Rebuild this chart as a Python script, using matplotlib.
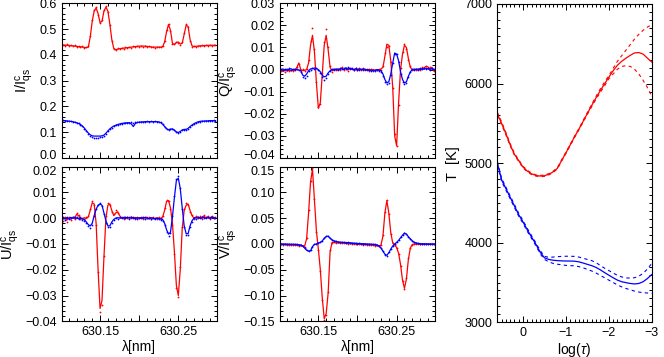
import numpy as np
import matplotlib
matplotlib.use("Agg")
import matplotlib.pyplot as plt
import matplotlib.transforms as mtrans
from matplotlib.ticker import MultipleLocator, FixedLocator, FixedFormatter, FuncFormatter

plt.rcParams["font.family"] = ["Liberation Sans", "DejaVu Sans"]
plt.rcParams["mathtext.fontset"] = "custom"
plt.rcParams["mathtext.rm"] = "Liberation Sans"
plt.rcParams["mathtext.it"] = "Liberation Sans:italic"
plt.rcParams["font.size"] = 9

# wavelength sampling (nm), 2.5 pm steps
lam = 630.1025 + 0.0025 * np.arange(79)

# Stokes I / Icqs
i_red_fit = [0.438, 0.438, 0.437, 0.437, 0.436, 0.435, 0.434, 0.433, 0.432, 0.431,
             0.430, 0.429, 0.428, 0.430, 0.470, 0.530, 0.570, 0.582, 0.560, 0.525,
             0.530, 0.570, 0.585, 0.570, 0.520, 0.460, 0.425, 0.420, 0.422, 0.424,
             0.425, 0.426, 0.427, 0.428, 0.429, 0.430, 0.431, 0.432, 0.433, 0.434,
             0.434, 0.434, 0.434, 0.433, 0.432, 0.431, 0.430, 0.430, 0.430, 0.430,
             0.430, 0.432, 0.450, 0.490, 0.518, 0.495, 0.445, 0.440, 0.448, 0.450,
             0.442, 0.445, 0.480, 0.515, 0.510, 0.460, 0.435, 0.432, 0.433, 0.434,
             0.435, 0.435, 0.436, 0.436, 0.437, 0.437, 0.437, 0.437, 0.437]
i_red_obs = [0.440, 0.436, 0.441, 0.435, 0.438, 0.434, 0.437, 0.431, 0.434, 0.430,
             0.433, 0.427, 0.429, 0.433, 0.475, 0.535, 0.575, 0.585, 0.555, 0.522,
             0.535, 0.574, 0.588, 0.566, 0.515, 0.455, 0.423, 0.418, 0.425, 0.422,
             0.427, 0.424, 0.429, 0.426, 0.431, 0.428, 0.433, 0.430, 0.435, 0.432,
             0.436, 0.432, 0.435, 0.431, 0.434, 0.429, 0.432, 0.428, 0.431, 0.429,
             0.431, 0.434, 0.454, 0.495, 0.520, 0.492, 0.442, 0.443, 0.450, 0.447,
             0.440, 0.448, 0.485, 0.518, 0.507, 0.455, 0.430, 0.435, 0.429, 0.436,
             0.433, 0.438, 0.434, 0.438, 0.435, 0.439, 0.436, 0.438, 0.437]
i_blue_fit = [0.145, 0.145, 0.144, 0.143, 0.142, 0.141, 0.139, 0.137, 0.134, 0.130,
              0.124, 0.116, 0.106, 0.097, 0.090, 0.086, 0.085, 0.085, 0.085, 0.085,
              0.086, 0.089, 0.096, 0.105, 0.113, 0.119, 0.124, 0.127, 0.130, 0.132,
              0.134, 0.135, 0.136, 0.137, 0.137, 0.132, 0.122, 0.133, 0.138, 0.139,
              0.140, 0.140, 0.141, 0.141, 0.141, 0.141, 0.141, 0.141, 0.141, 0.140,
              0.137, 0.131, 0.122, 0.113, 0.110, 0.112, 0.113, 0.108, 0.101, 0.099,
              0.103, 0.109, 0.111, 0.111, 0.115, 0.122, 0.128, 0.133, 0.137, 0.140,
              0.142, 0.143, 0.143, 0.144, 0.144, 0.145, 0.145, 0.145, 0.145]
i_blue_obs = [0.146, 0.144, 0.145, 0.142, 0.143, 0.140, 0.140, 0.136, 0.135, 0.129,
              0.123, 0.114, 0.104, 0.094, 0.086, 0.081, 0.079, 0.078, 0.079, 0.080,
              0.081, 0.085, 0.093, 0.103, 0.112, 0.118, 0.123, 0.127, 0.129, 0.132,
              0.133, 0.135, 0.135, 0.137, 0.136, 0.138, 0.137, 0.138, 0.139, 0.138,
              0.140, 0.139, 0.141, 0.142, 0.140, 0.142, 0.141, 0.142, 0.140, 0.141,
              0.138, 0.132, 0.121, 0.112, 0.108, 0.111, 0.112, 0.107, 0.100, 0.098,
              0.102, 0.108, 0.110, 0.110, 0.114, 0.121, 0.127, 0.133, 0.136, 0.140,
              0.141, 0.143, 0.142, 0.144, 0.143, 0.145, 0.144, 0.146, 0.145]

# Stokes Q / Icqs
q_red_fit = [-0.0005, -0.0008, -0.0004, -0.0006, -0.0003, -0.0005, -0.0002, -0.0004, 0.0010, 0.0030,
             0.0000, -0.0005, -0.0003, 0.0000, 0.0030, 0.0110, 0.0155, 0.0080, -0.0060, -0.0175,
             -0.0150, -0.0020, 0.0110, 0.0155, 0.0090, 0.0010, -0.0005, -0.0002, 0.0003, -0.0003,
             0.0002, 0.0008, 0.0000, 0.0005, -0.0002, 0.0003, 0.0006, -0.0001, 0.0004, 0.0000,
             0.0005, -0.0002, 0.0003, 0.0000, -0.0003, 0.0002, -0.0002, 0.0000, -0.0004, 0.0000,
             -0.0002, 0.0003, 0.0010, 0.0060, 0.0115, 0.0110, 0.0040, -0.0080, -0.0300, -0.0345,
             -0.0150, 0.0000, 0.0070, 0.0110, 0.0100, 0.0050, 0.0010, 0.0000, -0.0003, 0.0003,
             -0.0002, 0.0005, 0.0000, 0.0008, 0.0015, 0.0012, 0.0003, 0.0010, -0.0005]
q_red_obs = [-0.0008, -0.0003, -0.0010, -0.0002, -0.0007, 0.0000, -0.0006, 0.0002, 0.0012, 0.0025,
             -0.0004, 0.0002, -0.0006, 0.0004, 0.0045, 0.0130, 0.0187, 0.0095, -0.0055, -0.0170,
             -0.0155, -0.0015, 0.0125, 0.0185, 0.0100, 0.0015, -0.0010, 0.0003, -0.0004, 0.0002,
             -0.0003, 0.0010, -0.0002, 0.0008, -0.0005, 0.0006, 0.0002, -0.0004, 0.0007, -0.0002,
             0.0008, -0.0004, 0.0005, -0.0003, 0.0002, -0.0005, 0.0003, -0.0006, 0.0000, -0.0003,
             0.0002, -0.0002, 0.0015, 0.0075, 0.0100, 0.0105, 0.0035, -0.0085, -0.0290, -0.0345,
             -0.0160, 0.0005, 0.0080, 0.0115, 0.0095, 0.0045, 0.0015, -0.0003, 0.0004, -0.0004,
             0.0003, 0.0000, 0.0010, 0.0005, 0.0018, 0.0008, 0.0012, 0.0002, -0.0008]
q_blue_fit = [0.0000, 0.0003, -0.0002, 0.0002, 0.0000, 0.0004, -0.0001, 0.0002, 0.0000, -0.0002,
              -0.0005, -0.0025, -0.0030, -0.0020, -0.0005, 0.0003, 0.0005, 0.0007, 0.0005, 0.0000,
              -0.0010, -0.0025, -0.0033, -0.0030, -0.0015, -0.0005, 0.0000, 0.0002, 0.0000, 0.0003,
              0.0001, 0.0004, 0.0000, 0.0008, 0.0003, 0.0006, 0.0002, 0.0000, 0.0003, -0.0002,
              0.0002, 0.0000, 0.0003, -0.0002, 0.0000, -0.0004, -0.0002, -0.0005, -0.0003, 0.0000,
              -0.0002, -0.0005, -0.0020, -0.0045, -0.0060, -0.0055, -0.0020, 0.0030, 0.0075, 0.0070,
              0.0040, -0.0010, -0.0045, -0.0060, -0.0055, -0.0030, -0.0010, 0.0000, 0.0002, 0.0000,
              0.0003, 0.0000, 0.0004, 0.0002, 0.0006, 0.0003, 0.0001, 0.0004, 0.0000]
q_blue_obs = [0.0003, -0.0002, 0.0004, -0.0001, 0.0005, 0.0000, 0.0003, -0.0003, 0.0002, -0.0004,
              -0.0010, -0.0035, -0.0040, -0.0028, -0.0008, 0.0000, 0.0006, 0.0004, 0.0008, -0.0003,
              -0.0015, -0.0035, -0.0045, -0.0040, -0.0020, -0.0008, 0.0003, -0.0001, 0.0004, 0.0000,
              0.0005, 0.0001, 0.0007, 0.0004, 0.0010, 0.0002, 0.0005, -0.0003, 0.0006, 0.0000,
              -0.0002, 0.0004, 0.0000, 0.0003, -0.0004, 0.0000, -0.0006, -0.0002, -0.0007, -0.0002,
              -0.0005, -0.0010, -0.0028, -0.0055, -0.0065, -0.0062, -0.0025, 0.0028, 0.0072, 0.0072,
              0.0035, -0.0018, -0.0055, -0.0065, -0.0062, -0.0035, -0.0012, 0.0003, -0.0002, 0.0004,
              0.0000, 0.0005, 0.0002, 0.0006, 0.0002, 0.0007, -0.0002, 0.0005, 0.0002]

# Stokes U / Icqs
u_red_fit = [-0.0005, 0.0002, -0.0008, 0.0000, -0.0004, 0.0003, -0.0002, 0.0015, 0.0010, 0.0000,
             -0.0003, 0.0002, -0.0002, 0.0005, 0.0030, 0.0060, 0.0055, -0.0020, -0.0200, -0.0350,
             -0.0320, -0.0150, 0.0000, 0.0050, 0.0055, 0.0030, 0.0010, 0.0020, 0.0025, 0.0010,
             0.0000, 0.0003, -0.0002, 0.0004, 0.0000, 0.0005, -0.0001, 0.0003, 0.0000, 0.0002,
             -0.0002, 0.0003, 0.0000, 0.0004, -0.0003, 0.0002, 0.0000, -0.0002, 0.0001, 0.0000,
             -0.0002, 0.0005, 0.0030, 0.0065, 0.0068, 0.0040, -0.0020, -0.0130, -0.0260, -0.0300,
             -0.0200, -0.0040, 0.0030, 0.0050, 0.0055, 0.0030, 0.0010, 0.0000, 0.0003, 0.0005,
             0.0000, 0.0004, 0.0008, 0.0002, 0.0005, 0.0000, 0.0006, 0.0003, 0.0002]
u_red_obs = [-0.0010, 0.0006, -0.0015, 0.0003, -0.0008, 0.0006, -0.0004, 0.0020, 0.0013, -0.0004,
             0.0002, -0.0003, 0.0003, 0.0008, 0.0035, 0.0066, 0.0052, -0.0025, -0.0210, -0.0365,
             -0.0335, -0.0145, 0.0008, 0.0058, 0.0050, 0.0025, 0.0015, 0.0030, 0.0020, 0.0005,
             0.0004, -0.0002, 0.0005, -0.0001, 0.0006, 0.0001, 0.0004, -0.0003, 0.0006, 0.0000,
             0.0003, -0.0002, 0.0005, 0.0000, 0.0003, -0.0004, 0.0004, 0.0000, -0.0003, 0.0003,
             0.0002, 0.0008, 0.0038, 0.0070, 0.0065, 0.0035, -0.0025, -0.0140, -0.0270, -0.0305,
             -0.0190, -0.0035, 0.0035, 0.0058, 0.0050, 0.0025, 0.0012, -0.0004, 0.0008, 0.0002,
             0.0010, -0.0002, 0.0012, 0.0004, 0.0009, -0.0003, 0.0010, 0.0000, 0.0006]
u_blue_fit = [0.0000, -0.0003, 0.0002, -0.0002, 0.0003, 0.0000, 0.0004, 0.0000, -0.0002, 0.0000,
              -0.0003, -0.0005, -0.0015, -0.0025, -0.0030, -0.0020, 0.0010, 0.0035, 0.0050, 0.0055,
              0.0050, 0.0020, -0.0010, -0.0030, -0.0030, -0.0015, -0.0005, 0.0000, 0.0002, 0.0000,
              0.0002, 0.0000, 0.0003, 0.0001, 0.0002, 0.0000, 0.0003, -0.0002, 0.0001, 0.0000,
              0.0002, -0.0001, 0.0003, 0.0000, -0.0002, 0.0001, 0.0000, -0.0003, 0.0000, -0.0002,
              -0.0003, -0.0005, -0.0020, -0.0045, -0.0062, -0.0055, 0.0005, 0.0080, 0.0145, 0.0155,
              0.0115, 0.0040, -0.0030, -0.0060, -0.0060, -0.0030, -0.0010, 0.0000, 0.0002, 0.0000,
              0.0002, 0.0000, 0.0003, 0.0000, 0.0002, 0.0000, 0.0003, 0.0001, 0.0000]
u_blue_obs = [0.0004, -0.0006, 0.0005, -0.0004, 0.0000, 0.0005, 0.0000, 0.0004, -0.0005, 0.0003,
              -0.0006, -0.0010, -0.0020, -0.0032, -0.0038, -0.0025, 0.0008, 0.0035, 0.0052, 0.0058,
              0.0048, 0.0015, -0.0018, -0.0036, -0.0035, -0.0020, -0.0008, 0.0002, -0.0002, 0.0003,
              -0.0001, 0.0003, 0.0000, 0.0004, -0.0002, 0.0003, 0.0000, 0.0002, -0.0003, 0.0002,
              0.0000, 0.0003, -0.0002, 0.0002, 0.0000, -0.0003, 0.0002, -0.0004, 0.0002, -0.0004,
              -0.0006, -0.0010, -0.0028, -0.0052, -0.0068, -0.0058, 0.0008, 0.0085, 0.0150, 0.0162,
              0.0118, 0.0035, -0.0035, -0.0066, -0.0064, -0.0036, -0.0014, 0.0002, -0.0002, 0.0003,
              0.0000, 0.0003, -0.0001, 0.0002, 0.0004, 0.0001, 0.0003, 0.0000, 0.0002]

# Stokes V / Icqs
v_red_fit = [-0.0010, -0.0012, -0.0014, -0.0016, -0.0018, -0.0020, -0.0022, -0.0025, -0.0028, -0.0030,
             -0.0035, -0.0040, -0.0040, 0.0100, 0.0600, 0.1200, 0.1450, 0.0850, 0.0250, -0.0100,
             -0.0500, -0.1050, -0.1450, -0.1350, -0.0950, -0.0150, 0.0030, 0.0030, 0.0025, 0.0022,
             0.0020, 0.0018, 0.0015, 0.0012, 0.0010, 0.0008, 0.0005, 0.0003, 0.0000, -0.0002,
             -0.0005, -0.0008, -0.0010, -0.0012, -0.0015, -0.0018, -0.0020, -0.0025, -0.0030, -0.0035,
             -0.0040, -0.0020, 0.0150, 0.0600, 0.0840, 0.0600, 0.0220, 0.0020, -0.0020, -0.0070,
             -0.0180, -0.0400, -0.0700, -0.0860, -0.0680, -0.0300, -0.0080, -0.0010, 0.0000, 0.0000,
             0.0000, -0.0002, -0.0003, -0.0004, -0.0005, -0.0006, -0.0007, -0.0008, -0.0008]
v_red_obs = [-0.0005, -0.0015, -0.0010, -0.0020, -0.0015, -0.0025, -0.0020, -0.0030, -0.0025, -0.0035,
             -0.0030, -0.0045, -0.0050, 0.0120, 0.0650, 0.1230, 0.1480, 0.0870, 0.0230, -0.0120,
             -0.0520, -0.1080, -0.1480, -0.1380, -0.0930, -0.0120, 0.0010, 0.0040, 0.0020, 0.0030,
             0.0015, 0.0025, 0.0010, 0.0018, 0.0005, 0.0012, 0.0000, 0.0008, -0.0005, 0.0002,
             -0.0010, -0.0004, -0.0015, -0.0008, -0.0020, -0.0012, -0.0025, -0.0020, -0.0035, -0.0030,
             -0.0048, -0.0015, 0.0170, 0.0620, 0.0850, 0.0580, 0.0200, 0.0010, -0.0030, -0.0080,
             -0.0200, -0.0420, -0.0720, -0.0880, -0.0660, -0.0280, -0.0070, -0.0020, 0.0005, -0.0005,
             0.0003, -0.0004, 0.0000, -0.0006, -0.0002, -0.0008, -0.0004, -0.0010, -0.0006]
v_blue_fit = [0.0000, 0.0000, -0.0002, -0.0003, -0.0004, -0.0005, -0.0006, -0.0008, -0.0010, -0.0015,
              -0.0020, -0.0040, -0.0080, -0.0120, -0.0140, -0.0130, -0.0050, -0.0010, 0.0000, 0.0020,
              0.0030, 0.0060, 0.0110, 0.0145, 0.0150, 0.0110, 0.0080, 0.0060, 0.0050, 0.0040,
              0.0035, 0.0032, 0.0030, 0.0028, 0.0025, 0.0022, 0.0020, 0.0015, 0.0012, 0.0010,
              0.0008, 0.0006, 0.0004, 0.0002, 0.0000, -0.0002, -0.0005, -0.0008, -0.0010, -0.0020,
              -0.0040, -0.0080, -0.0140, -0.0200, -0.0220, -0.0170, -0.0100, -0.0040, 0.0000, 0.0030,
              0.0070, 0.0120, 0.0170, 0.0210, 0.0190, 0.0140, 0.0100, 0.0060, 0.0030, 0.0020,
              0.0010, 0.0005, 0.0003, 0.0002, 0.0001, 0.0000, 0.0000, 0.0000, 0.0000]
v_blue_obs = [0.0005, -0.0003, 0.0002, -0.0006, 0.0000, -0.0008, -0.0003, -0.0010, -0.0008, -0.0018,
              -0.0025, -0.0045, -0.0085, -0.0125, -0.0145, -0.0125, -0.0055, -0.0008, 0.0005, 0.0020,
              0.0035, 0.0065, 0.0115, 0.0150, 0.0155, 0.0115, 0.0085, 0.0062, 0.0055, 0.0038,
              0.0040, 0.0030, 0.0034, 0.0025, 0.0028, 0.0020, 0.0024, 0.0012, 0.0016, 0.0008,
              0.0011, 0.0004, 0.0007, 0.0000, 0.0003, -0.0004, -0.0002, -0.0010, -0.0008, -0.0025,
              -0.0045, -0.0085, -0.0145, -0.0205, -0.0228, -0.0165, -0.0095, -0.0035, 0.0005, 0.0032,
              0.0075, 0.0125, 0.0175, 0.0215, 0.0195, 0.0135, 0.0105, 0.0055, 0.0035, 0.0018,
              0.0012, 0.0003, 0.0006, 0.0000, 0.0004, -0.0002, 0.0002, 0.0000, 0.0001]

# temperature stratification
logtau = [0.6, 0.5, 0.4, 0.3, 0.2, 0.1, 0.0, -0.1, -0.2, -0.3, -0.4, -0.5, -0.6, -0.7, -0.8,
          -0.9, -1.0, -1.1, -1.2, -1.3, -1.4, -1.5, -1.6, -1.7, -1.8, -1.9, -2.0, -2.1, -2.2,
          -2.3, -2.4, -2.5, -2.6, -2.7, -2.8, -2.9, -3.0]
t_red = [5620, 5500, 5370, 5230, 5110, 5030, 4950, 4900, 4865, 4845, 4838, 4842, 4860, 4890, 4935,
         5035, 5130, 5230, 5330, 5425, 5525, 5625, 5725, 5820, 5910, 5995, 6080, 6160, 6230,
         6280, 6320, 6355, 6385, 6390, 6370, 6320, 6270]
t_red_hi = [5640, 5518, 5386, 5244, 5122, 5040, 4960, 4910, 4874, 4853, 4846, 4850, 4868, 4898, 4943,
            5043, 5138, 5238, 5338, 5433, 5535, 5637, 5740, 5838, 5932, 6020, 6100, 6190, 6280,
            6350, 6420, 6490, 6560, 6620, 6670, 6710, 6740]
t_red_lo = [5600, 5482, 5354, 5216, 5098, 5020, 4940, 4890, 4856, 4837, 4830, 4834, 4852, 4882, 4927,
            5027, 5122, 5222, 5322, 5417, 5515, 5613, 5710, 5802, 5888, 5970, 6060, 6120, 6180,
            6215, 6225, 6215, 6180, 6120, 6040, 5950, 5840]
t_blue = [5000, 4790, 4680, 4570, 4460, 4350, 4260, 4160, 4070, 3980, 3880, 3810, 3790, 3780, 3775,
          3772, 3770, 3770, 3768, 3760, 3745, 3728, 3712, 3690, 3660, 3625, 3592, 3560, 3530,
          3510, 3498, 3488, 3482, 3488, 3510, 3550, 3600]
t_blue_hi = [5020, 4810, 4698, 4588, 4478, 4368, 4278, 4178, 4088, 3998, 3900, 3830, 3815, 3820, 3825,
             3828, 3830, 3830, 3828, 3820, 3805, 3790, 3775, 3750, 3715, 3680, 3650, 3620, 3590,
             3570, 3558, 3555, 3560, 3580, 3615, 3670, 3740]
t_blue_lo = [4980, 4770, 4662, 4552, 4442, 4332, 4242, 4142, 4052, 3962, 3860, 3790, 3760, 3740, 3730,
             3722, 3715, 3712, 3710, 3700, 3685, 3665, 3645, 3620, 3590, 3560, 3530, 3500, 3470,
             3445, 3425, 3408, 3392, 3380, 3372, 3368, 3365]

RED = "#ff0000"
BLUE = "#0000ff"

fig = plt.figure(figsize=(6.64, 3.57), dpi=100)

W = 0.2334
H = 0.4334
ax_i = fig.add_axes([0.0929, 0.5574, W, H])
ax_q = fig.add_axes([0.4217, 0.5574, W, H])
ax_u = fig.add_axes([0.0929, 0.1000, W, H])
ax_v = fig.add_axes([0.4217, 0.1000, W, H])
ax_t = fig.add_axes([0.7490, 0.0972, 0.2325, 0.8916])


def minus_fmt(fmt):
    return FuncFormatter(lambda v, p: (fmt % v).replace("-", "\u2212"))


def style(ax):
    ax.tick_params(which="both", direction="in", top=True, right=True, width=0.7)
    ax.tick_params(which="major", length=4.5)
    ax.tick_params(which="minor", length=2.2)
    for s in ax.spines.values():
        s.set_linewidth(0.8)


def stokes(ax, red_fit, red_obs, blue_fit, blue_obs, ylim, major, minor, fmt, label, bottom):
    ax.plot(lam, red_fit, color=RED, lw=0.9)
    ax.plot(lam, red_obs, ls="none", marker="o", ms=1.3, mew=0, color=RED)
    ax.plot(lam, blue_fit, color=BLUE, lw=0.9)
    ax.plot(lam, blue_obs, ls="none", marker="o", ms=1.3, mew=0, color=BLUE)
    ax.set_xlim(630.101, 630.299)
    ax.set_ylim(*ylim)
    ax.yaxis.set_major_locator(MultipleLocator(major))
    ax.yaxis.set_minor_locator(MultipleLocator(minor))
    ax.yaxis.set_major_formatter(minus_fmt(fmt))
    ax.xaxis.set_major_locator(FixedLocator([630.15, 630.20, 630.25]))
    ax.xaxis.set_minor_locator(MultipleLocator(0.01))
    if bottom:
        ax.xaxis.set_major_formatter(FixedFormatter(["630.15", "", "630.25"]))
        ax.set_xlabel("λ[nm]", labelpad=1, fontsize=10)
    else:
        ax.set_xticklabels([])
    ax.set_ylabel(label, labelpad=3, fontsize=10.5)
    style(ax)


stokes(ax_i, i_red_fit, i_red_obs, i_blue_fit, i_blue_obs, (0.0, 0.6), 0.1, 0.02, "%.1f",
       r"I/I$^{\rm c}_{\rm qs}$", False)
stokes(ax_q, q_red_fit, q_red_obs, q_blue_fit, q_blue_obs, (-0.04, 0.03), 0.01, 0.002, "%.2f",
       r"Q/I$^{\rm c}_{\rm qs}$", False)
stokes(ax_u, u_red_fit, u_red_obs, u_blue_fit, u_blue_obs, (-0.04, 0.02), 0.01, 0.002, "%.2f",
       r"U/I$^{\rm c}_{\rm qs}$", True)
stokes(ax_v, v_red_fit, v_red_obs, v_blue_fit, v_blue_obs, (-0.15, 0.15), 0.05, 0.01, "%.2f",
       r"V/I$^{\rm c}_{\rm qs}$", True)

# temperature panel
ax_t.plot(logtau, t_red, color=RED, lw=0.9)
ax_t.plot(logtau, t_red_hi, color=RED, lw=0.8, ls=(0, (3, 3)))
ax_t.plot(logtau, t_red_lo, color=RED, lw=0.8, ls=(0, (3, 3)))
ax_t.plot(logtau, t_blue, color=BLUE, lw=0.9)
ax_t.plot(logtau, t_blue_hi, color=BLUE, lw=0.8, ls=(0, (3, 3)))
ax_t.plot(logtau, t_blue_lo, color=BLUE, lw=0.8, ls=(0, (3, 3)))
ax_t.set_xlim(0.6, -3.0)
ax_t.set_ylim(3000, 7000)
ax_t.xaxis.set_major_locator(MultipleLocator(1))
ax_t.xaxis.set_minor_locator(MultipleLocator(0.1))
ax_t.xaxis.set_major_formatter(minus_fmt("%d"))
ax_t.yaxis.set_major_locator(MultipleLocator(1000))
ax_t.yaxis.set_minor_locator(MultipleLocator(100))
ax_t.set_xlabel(r"log($\tau$)", labelpad=1, fontsize=10)
ax_t.set_ylabel("T  [K]", labelpad=3, fontsize=10.5)
style(ax_t)

# nudge the tick labels that meet in the gap between the upper and lower rows
fig.canvas.draw()
for ax, up in [(ax_i, True), (ax_q, True), (ax_u, False), (ax_v, False)]:
    lo, hi = ax.get_ylim()
    for tick in ax.yaxis.get_major_ticks():
        v = tick.get_loc()
        if up and abs(v - lo) < 1e-9:
            tick.label1.set_transform(tick.label1.get_transform()
                                      + mtrans.ScaledTranslation(0, 2.5 / 72, fig.dpi_scale_trans))
        if not up and abs(v - hi) < 1e-9:
            tick.label1.set_transform(tick.label1.get_transform()
                                      + mtrans.ScaledTranslation(0, -2.5 / 72, fig.dpi_scale_trans))

fig.savefig("out.png", dpi=100)
